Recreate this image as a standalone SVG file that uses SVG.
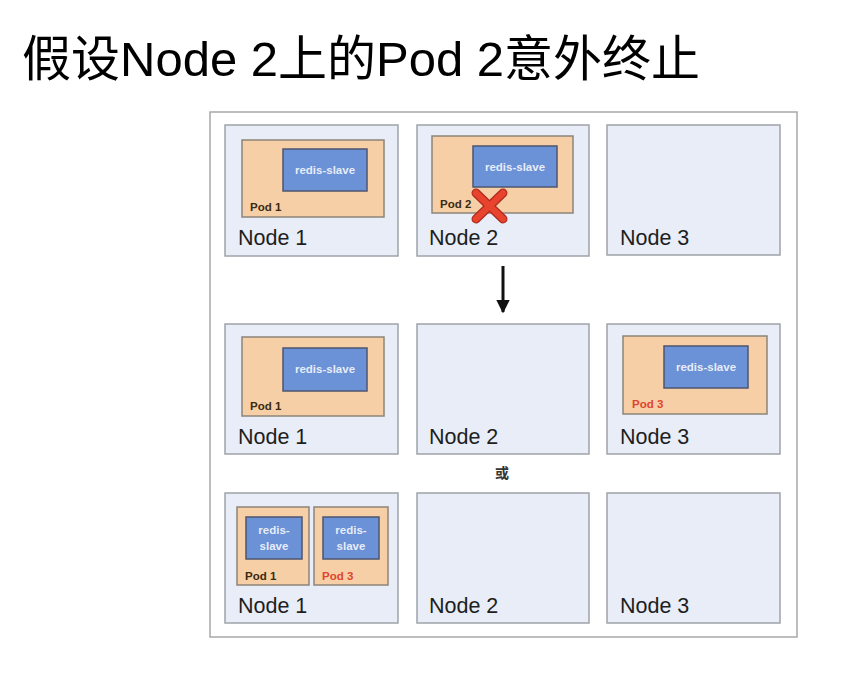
<svg xmlns="http://www.w3.org/2000/svg" width="864" height="686" viewBox="0 0 864 686">
<defs>
<style>
.node{fill:#e8edf7;stroke:#9fa3a8;stroke-width:1.5}
.pod{fill:#f7cfa6;stroke:#8c8478;stroke-width:1.5}
.rs{fill:#6b91d6;stroke:#4d5670;stroke-width:1.5}
.nl{font-family:"Liberation Sans",Arial,sans-serif;font-size:21.5px;fill:#1e1e1e}
.pl{font-family:"Liberation Sans",Arial,sans-serif;font-size:11.5px;font-weight:bold;fill:#3a2a10}
.pr{font-family:"Liberation Sans",Arial,sans-serif;font-size:11.5px;font-weight:bold;fill:#e0442e}
.rt{font-family:"Liberation Sans",Arial,sans-serif;font-size:11.5px;font-weight:bold;fill:#ffffff;fill-opacity:0.85;text-anchor:middle}
</style>
<marker id="ah" viewBox="0 0 10 10" refX="9" refY="5" markerWidth="4.5" markerHeight="4.5" orient="auto" markerUnits="strokeWidth">
<path d="M0,0 L10,5 L0,10 z" fill="#111"/>
</marker>
</defs>
<rect width="864" height="686" fill="#ffffff"/>
<text x="22" y="76" font-family="'Liberation Sans','Noto Sans CJK SC',sans-serif" font-size="49" fill="#000">假设Node 2上的Pod 2意外终止</text>
<rect id="frame" x="210" y="112" width="587" height="525" fill="#ffffff" stroke="#a8a8a8" stroke-width="1.5"/>

<g id="r1n1">
<rect class="node" x="225" y="125" width="173" height="131"/>
<rect class="pod" x="242" y="140" width="142" height="77"/>
<rect class="rs" x="283" y="149" width="84" height="42"/>
<text class="rt" x="325" y="174">redis-slave</text>
<text class="pl" x="250" y="211">Pod 1</text>
<text class="nl" x="238" y="245">Node 1</text>
</g>
<g id="r1n2">
<rect class="node" x="417" y="125" width="172" height="131"/>
<rect class="pod" x="432" y="136" width="141" height="77"/>
<rect class="rs" x="473" y="146" width="84" height="41"/>
<text class="rt" x="515" y="171">redis-slave</text>
<text class="pl" x="440" y="208">Pod 2</text>
<text class="nl" x="429" y="245">Node 2</text>
<g id="cross">
<path d="M476,193 L503,219 M503,193 L476,219" stroke="#b02a20" stroke-width="9" stroke-linecap="round" fill="none"/>
<path d="M476,193 L503,219 M503,193 L476,219" stroke="#e8432c" stroke-width="6.5" stroke-linecap="round" fill="none"/>
</g>
</g>
<g id="r1n3">
<rect class="node" x="607" y="125" width="173" height="130"/>
<text class="nl" x="620" y="245">Node 3</text>
</g>

<g id="connectors">
<line x1="503" y1="266" x2="503" y2="312" stroke="#111" stroke-width="3" marker-end="url(#ah)"/>
</g>

<g id="r2n1">
<rect class="node" x="225" y="324" width="173" height="130"/>
<rect class="pod" x="242" y="337" width="142" height="79"/>
<rect class="rs" x="283" y="348" width="84" height="43"/>
<text class="rt" x="325" y="373">redis-slave</text>
<text class="pl" x="250" y="410">Pod 1</text>
<text class="nl" x="238" y="444">Node 1</text>
</g>
<g id="r2n2">
<rect class="node" x="417" y="324" width="172" height="130"/>
<text class="nl" x="429" y="444">Node 2</text>
</g>
<g id="r2n3">
<rect class="node" x="607" y="324" width="173" height="130"/>
<rect class="pod" x="623" y="336" width="144" height="78"/>
<rect class="rs" x="664" y="346" width="84" height="42"/>
<text class="rt" x="706" y="371">redis-slave</text>
<text class="pr" x="632" y="408">Pod 3</text>
<text class="nl" x="620" y="444">Node 3</text>
</g>

<text id="or" x="502" y="478" font-family="'Noto Sans CJK SC',sans-serif" font-size="14" font-weight="bold" fill="#333" text-anchor="middle">或</text>

<g id="r3n1">
<rect class="node" x="225" y="493" width="173" height="130"/>
<rect class="pod" x="237" y="507" width="72" height="78"/>
<rect class="rs" x="246" y="517" width="56" height="42"/>
<text class="rt" x="274" y="534">redis-</text>
<text class="rt" x="274" y="550">slave</text>
<text class="pl" x="245" y="580">Pod 1</text>
<rect class="pod" x="314" y="507" width="74" height="78"/>
<rect class="rs" x="323" y="517" width="56" height="42"/>
<text class="rt" x="351" y="534">redis-</text>
<text class="rt" x="351" y="550">slave</text>
<text class="pr" x="322" y="580">Pod 3</text>
<text class="nl" x="238" y="613">Node 1</text>
</g>
<g id="r3n2">
<rect class="node" x="417" y="493" width="172" height="130"/>
<text class="nl" x="429" y="613">Node 2</text>
</g>
<g id="r3n3">
<rect class="node" x="607" y="493" width="173" height="130"/>
<text class="nl" x="620" y="613">Node 3</text>
</g>
</svg>
